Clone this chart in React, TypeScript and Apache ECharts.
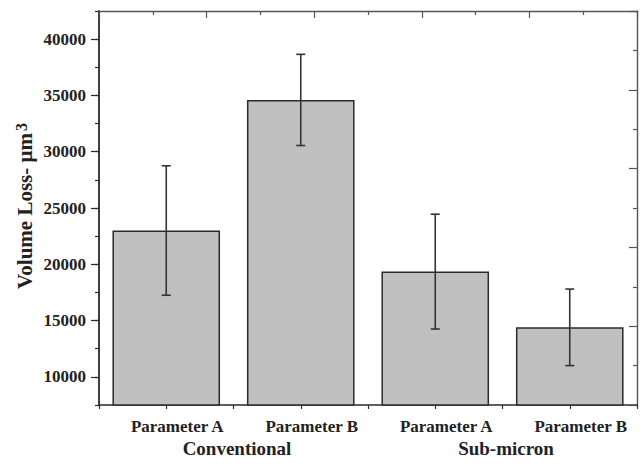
import React, { useEffect, useRef } from "react";
import * as echarts from "echarts";

const paramLabels = ["Parameter A", "Parameter B", "Parameter A", "Parameter B"];
const groupLabels = ["Conventional", "Sub-micron"];
const means = [23000, 34600, 19350, 14400];
const errors = [5750, 4050, 5100, 3400];
const yMin = 7500;
const yMax = 42500;
const yTickValues = [10000, 15000, 20000, 25000, 30000, 35000, 40000];

const FONT = "'Liberation Serif', 'Times New Roman', serif";
const DARK = "#2b2b2b";

export default function App() {
  const ref = useRef<HTMLDivElement>(null);
  useEffect(() => {
    if (!ref.current) return;
    const chart = echarts.init(ref.current, undefined, { renderer: "svg" });
    const catKeys = paramLabels.map((_, i) => String(i));
    const errData = means.map((m, i) => [i, m - errors[i], m + errors[i]]);
    const option: any = {
      animation: false,
      backgroundColor: "#ffffff",
      grid: { left: 99, right: 6, top: 11, bottom: 61, containLabel: false },
      xAxis: [
        {
          type: "category",
          data: catKeys,
          position: "bottom",
          axisLine: { show: true, lineStyle: { color: DARK, width: 1.6 } },
          axisTick: { show: false },
          splitLine: { show: false },
          axisLabel: {
            formatter: (_v: string, i: number) => paramLabels[i],
            fontFamily: FONT,
            fontWeight: "bold",
            fontSize: 17,
            color: "#222",
            margin: 13,
            padding: [0, 0, 0, 22],
          },
        },
        {
          type: "value",
          min: 0,
          max: 8,
          interval: 1,
          position: "bottom",
          axisLine: { show: false },
          axisTick: { show: true, length: 4, lineStyle: { color: DARK, width: 1.2 } },
          axisLabel: { show: false },
          splitLine: { show: false },
        },
        {
          type: "value",
          min: 0,
          max: 10,
          interval: 2,
          position: "top",
          axisLine: { show: true, lineStyle: { color: "#555", width: 1.4 } },
          axisTick: { show: true, inside: true, length: 7, lineStyle: { color: "#555", width: 1.2 } },
          minorTick: { show: true, splitNumber: 2, length: 4, lineStyle: { color: "#555", width: 1.2 } },
          axisLabel: { show: false },
          splitLine: { show: false },
          minorSplitLine: { show: false },
        },
        {
          type: "category",
          data: groupLabels,
          position: "bottom",
          axisLine: { show: false },
          axisTick: { show: false },
          splitLine: { show: false },
          axisLabel: {
            fontFamily: FONT,
            fontWeight: "bold",
            fontSize: 19,
            color: "#222",
            margin: 34,
            padding: [0, 0, 0, 7],
          },
        },
      ],
      yAxis: [
        {
          type: "value",
          min: yMin,
          max: yMax,
          interval: 2500,
          position: "left",
          axisLine: { show: true, lineStyle: { color: DARK, width: 1.8 } },
          axisTick: { show: true, length: 8, customValues: yTickValues, lineStyle: { color: DARK, width: 1.2 } },
          axisLabel: {
            customValues: yTickValues,
            formatter: (v: number) => String(v),
            fontFamily: FONT,
            fontWeight: "bold",
            fontSize: 17,
            color: "#222",
            margin: 13,
          },
          splitLine: { show: false },
        },
        {
          type: "value",
          min: yMin,
          max: yMax,
          interval: 2500,
          position: "left",
          axisLine: { show: false },
          axisTick: { show: true, length: 4, lineStyle: { color: DARK, width: 1.2 } },
          axisLabel: { show: false },
          splitLine: { show: false },
        },
        {
          type: "value",
          min: 0,
          max: 10,
          interval: 2,
          position: "right",
          axisLine: { show: true, lineStyle: { color: "#555", width: 1.4 } },
          axisTick: { show: true, inside: true, length: 8, lineStyle: { color: "#555", width: 1.2 } },
          minorTick: { show: true, splitNumber: 2, length: 4, lineStyle: { color: "#555", width: 1.2 } },
          axisLabel: { show: false },
          splitLine: { show: false },
          minorSplitLine: { show: false },
        },
      ],
      series: [
        {
          type: "bar",
          xAxisIndex: 0,
          yAxisIndex: 0,
          data: means,
          barCategoryGap: "20%",
          itemStyle: { color: "#c0c0c0", borderColor: DARK, borderWidth: 1.5 },
          z: 2,
        },
        {
          type: "custom",
          xAxisIndex: 0,
          yAxisIndex: 0,
          data: errData,
          z: 5,
          renderItem: (_params: any, api: any) => {
            const x = api.value(0);
            const lo = api.coord([x, api.value(1)]);
            const hi = api.coord([x, api.value(2)]);
            const w = 4.5;
            const style = { stroke: "#333", lineWidth: 1.6 };
            return {
              type: "group",
              children: [
                { type: "line", shape: { x1: hi[0], y1: hi[1], x2: lo[0], y2: lo[1] }, style },
                { type: "line", shape: { x1: hi[0] - w, y1: hi[1], x2: hi[0] + w, y2: hi[1] }, style },
                { type: "line", shape: { x1: lo[0] - w, y1: lo[1], x2: lo[0] + w, y2: lo[1] }, style },
              ],
            };
          },
        },
      ],
      graphic: [
        {
          type: "text",
          x: 24,
          y: 206,
          rotation: Math.PI / 2,
          style: {
            text: "{m|Volume Loss- μm}{s|3}",
            textAlign: "center",
            textVerticalAlign: "middle",
            fill: "#222",
            rich: {
              m: {
                fontFamily: FONT,
                fontWeight: "bold",
                fontSize: 21,
                lineHeight: 22,
                padding: [7, 0, 0, 0],
                verticalAlign: "bottom",
                fill: "#222",
                color: "#222",
              },
              s: {
                fontFamily: FONT,
                fontWeight: "bold",
                fontSize: 16,
                lineHeight: 16,
                padding: [0, 0, 0, 2],
                verticalAlign: "top",
                fill: "#222",
                color: "#222",
              },
            },
          },
        },
      ],
    };
    chart.setOption(option);
    return () => chart.dispose();
  }, []);
  return (
    <div
      ref={ref}
      style={{ position: "fixed", left: 0, top: 0, width: 643, height: 466, background: "#fff" }}
    />
  );
}
